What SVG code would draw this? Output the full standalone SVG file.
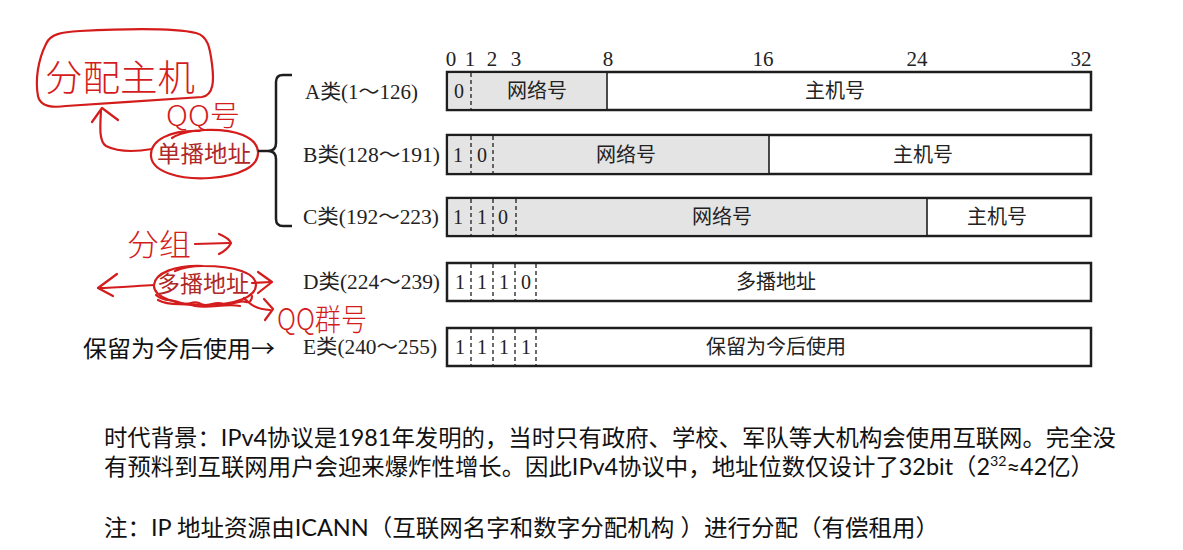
<svg xmlns="http://www.w3.org/2000/svg" width="1183" height="550" viewBox="0 0 1183 550">
  <style>
    .bg{fill:#ffffff}
    .box{fill:#ffffff;stroke:#1e1e1e;stroke-width:2.5}
    .gray{fill:#e4e4e4;stroke:none}
    .solid{stroke:#1e1e1e;stroke-width:1.6}
    .dash{stroke:#1e1e1e;stroke-width:1.3;stroke-dasharray:4 3}
    .num{font-family:"Liberation Serif","Noto Sans CJK SC",serif;font-size:21px;fill:#222;text-anchor:middle}
    .bit{font-family:"Liberation Serif","Noto Sans CJK SC",serif;font-size:20px;fill:#222;text-anchor:middle}
    .cell{font-family:"Liberation Serif","Noto Sans CJK SC",serif;font-size:20px;fill:#222;text-anchor:middle}
    .lbl{font-family:"Liberation Serif","Noto Sans CJK SC",serif;font-size:20px;fill:#222}
    .note{font-family:"Lato","Noto Sans CJK SC",sans-serif;font-size:23px;fill:#111}
    .side{font-family:"Noto Sans CJK SC",sans-serif;font-size:23px;fill:#111}
    .typed{font-family:"Liberation Serif","Noto Sans CJK SC",serif;font-size:23px;fill:#b02828}
    .hand{font-family:"Noto Sans CJK SC",sans-serif;fill:#d41c1c;font-weight:300}
    .ink{fill:none;stroke:#d41c1c;stroke-width:2.2;stroke-linecap:round;stroke-linejoin:round}
    .brace{fill:none;stroke:#1e1e1e;stroke-width:2.5}
  </style>
  <rect class="bg" x="0" y="0" width="1183" height="550"/>

  <!-- header bit positions -->
  <g id="bit-scale">
    <text class="num" x="451" y="66">0</text>
    <text class="num" x="470" y="66">1</text>
    <text class="num" x="492" y="66">2</text>
    <text class="num" x="516" y="66">3</text>
    <text class="num" x="608" y="66">8</text>
    <text class="num" x="763" y="66">16</text>
    <text class="num" x="917" y="66">24</text>
    <text class="num" x="1081" y="66">32</text>
  </g>

  <!-- Class A -->
  <g id="class-a">
    <text class="lbl" x="305" y="99" textLength="113" lengthAdjust="spacingAndGlyphs">A类(1～126)</text>
    <rect class="box" x="447" y="72" width="644" height="38"/>
    <rect class="gray" x="448.5" y="73.5" width="158" height="35"/>
    <line class="dash" x1="471" y1="73" x2="471" y2="109"/>
    <line class="solid" x1="607" y1="73" x2="607" y2="109"/>
    <text class="bit" x="459" y="98">0</text>
    <text class="cell" x="537" y="98">网络号</text>
    <text class="cell" x="835" y="98">主机号</text>
  </g>

  <!-- Class B -->
  <g id="class-b">
    <text class="lbl" x="303" y="162" textLength="137" lengthAdjust="spacingAndGlyphs">B类(128～191)</text>
    <rect class="box" x="447" y="135" width="644" height="39"/>
    <rect class="gray" x="448.5" y="136.5" width="320.5" height="36"/>
    <line class="dash" x1="471" y1="136" x2="471" y2="173"/>
    <line class="dash" x1="493" y1="136" x2="493" y2="173"/>
    <line class="solid" x1="769" y1="136" x2="769" y2="173"/>
    <text class="bit" x="458" y="162">1</text>
    <text class="bit" x="482" y="162">0</text>
    <text class="cell" x="626" y="162">网络号</text>
    <text class="cell" x="923" y="162">主机号</text>
  </g>

  <!-- Class C -->
  <g id="class-c">
    <text class="lbl" x="303" y="224" textLength="136" lengthAdjust="spacingAndGlyphs">C类(192～223)</text>
    <rect class="box" x="447" y="198" width="644" height="38"/>
    <rect class="gray" x="448.5" y="199.5" width="478.5" height="35"/>
    <line class="dash" x1="471" y1="199" x2="471" y2="235"/>
    <line class="dash" x1="493" y1="199" x2="493" y2="235"/>
    <line class="dash" x1="516" y1="199" x2="516" y2="235"/>
    <line class="solid" x1="927" y1="199" x2="927" y2="235"/>
    <text class="bit" x="458" y="224">1</text>
    <text class="bit" x="482" y="224">1</text>
    <text class="bit" x="503" y="224">0</text>
    <text class="cell" x="722" y="224">网络号</text>
    <text class="cell" x="997" y="224">主机号</text>
  </g>

  <!-- Class D -->
  <g id="class-d">
    <text class="lbl" x="303" y="289" textLength="137" lengthAdjust="spacingAndGlyphs">D类(224～239)</text>
    <rect class="box" x="447" y="263" width="644" height="38"/>
    <line class="dash" x1="471" y1="264" x2="471" y2="300"/>
    <line class="dash" x1="493" y1="264" x2="493" y2="300"/>
    <line class="dash" x1="515" y1="264" x2="515" y2="300"/>
    <line class="dash" x1="536" y1="264" x2="536" y2="300"/>
    <text class="bit" x="460" y="289">1</text>
    <text class="bit" x="482" y="289">1</text>
    <text class="bit" x="504" y="289">1</text>
    <text class="bit" x="526" y="289">0</text>
    <text class="cell" x="776" y="289">多播地址</text>
  </g>

  <!-- Class E -->
  <g id="class-e">
    <text class="lbl" x="303" y="354" textLength="134" lengthAdjust="spacingAndGlyphs">E类(240～255)</text>
    <rect class="box" x="447" y="328" width="644" height="38"/>
    <line class="dash" x1="471" y1="329" x2="471" y2="365"/>
    <line class="dash" x1="493" y1="329" x2="493" y2="365"/>
    <line class="dash" x1="515" y1="329" x2="515" y2="365"/>
    <line class="dash" x1="536" y1="329" x2="536" y2="365"/>
    <text class="bit" x="460" y="354">1</text>
    <text class="bit" x="482" y="354">1</text>
    <text class="bit" x="504" y="354">1</text>
    <text class="bit" x="526" y="354">1</text>
    <text class="cell" x="776" y="354">保留为今后使用</text>
  </g>

  <!-- side notes -->
  <g id="reserved-note">
    <text class="side" x="83" y="357" textLength="192" lengthAdjust="spacingAndGlyphs">保留为今后使用→</text>
  </g>

  <g id="unicast">
    <text class="typed" x="157" y="162" textLength="94" lengthAdjust="spacingAndGlyphs">单播地址</text>
    <path class="ink" d="M200,131 C170,130 150,140 151,156 C152,172 180,180 210,178 C240,176 259,166 258,152 C257,137 236,129 205,130 C190,131 178,134 172,138"/>
  </g>

  <g id="multicast">
    <text class="typed" x="157" y="292" textLength="92" lengthAdjust="spacingAndGlyphs">多播地址</text>
    <path class="ink" d="M203,266 C175,265 155,273 154,285 C153,297 175,305 205,305 C235,305 256,297 256,285 C256,273 235,266 203,266 C192,266 182,268 175,271"/>
    <path class="ink" d="M156,295 C165,303 172,298 180,303 C188,307 193,299 201,304 C209,308 215,300 223,304 C231,307 238,299 246,302 C250,303 252,300 252,296"/>
    <path class="ink" d="M158,300 C170,307 185,302 195,306 C210,309 225,303 240,306"/>
  </g>

  <g id="handwriting">
    <!-- 分配主机 box -->
    <path class="ink" d="M46,44 C38,60 35,80 38,96 C40,106 52,108 66,106 C110,103 160,100 202,97 C214,95 214,80 212,64 C210,48 208,36 196,33 C170,27 120,29 80,31 C62,32 50,34 46,44"/>
    <text class="hand" x="45" y="91" font-size="36" textLength="150" lengthAdjust="spacingAndGlyphs">分配主机</text>
    <text class="hand" x="166" y="126" font-size="28" textLength="74" lengthAdjust="spacingAndGlyphs">QQ号</text>
    <text class="hand" x="127" y="255" font-size="30" textLength="64" lengthAdjust="spacingAndGlyphs">分组</text>
    <text class="hand" x="277" y="330" font-size="30" textLength="90" lengthAdjust="spacingAndGlyphs">QQ群号</text>
  </g>

  <!-- connectors -->
  <g id="connectors">
    <path class="brace" d="M292,75 H283 Q276,75 276,82 V143 Q276,151 268,151 H258 M268,151 Q276,151 276,159 V219 Q276,226 283,226 H292"/>
    <!-- unicast to 分配主机 -->
    <path class="ink" d="M152,149 C135,152 118,152 106,146 C99,141 100,128 101,110"/>
    <path class="ink" d="M92,122 L102,108 L118,120"/>
    <!-- 分组 arrow -->
    <path class="ink" d="M195,244 L229,243"/>
    <path class="ink" d="M219,234 C226,237 230,240 231,243 C229,247 225,251 219,254"/>
    <!-- multicast left arrow -->
    <path class="ink" d="M154,285 C135,286 115,288 98,288"/>
    <path class="ink" d="M117,274 L98,288 L113,296"/>
    <!-- multicast right arrow -->
    <path class="ink" d="M252,283 L271,282"/>
    <path class="ink" d="M258,272 L272,282 L258,293"/>
    <!-- to QQ群号 -->
    <path class="ink" d="M244,298 C250,304 255,309 270,310"/>
    <path class="ink" d="M264,299 L273,309 L265,320"/>
  </g>

  <!-- bottom notes -->
  <g id="background-note">
    <text class="note" x="104" y="446" textLength="1012" lengthAdjust="spacingAndGlyphs">时代背景：IPv4协议是1981年发明的，当时只有政府、学校、军队等大机构会使用互联网。完全没</text>
    <text class="note" x="104" y="475" textLength="990" lengthAdjust="spacingAndGlyphs">有预料到互联网用户会迎来爆炸性增长。因此IPv4协议中，地址位数仅设计了32bit（2<tspan font-size="14" dy="-9">32</tspan><tspan dy="9">≈42亿）</tspan></text>
  </g>
  <g id="icann-note">
    <text class="note" x="104" y="536" textLength="835" lengthAdjust="spacingAndGlyphs">注：IP 地址资源由ICANN（互联网名字和数字分配机构 ）进行分配（有偿租用）</text>
  </g>
</svg>
